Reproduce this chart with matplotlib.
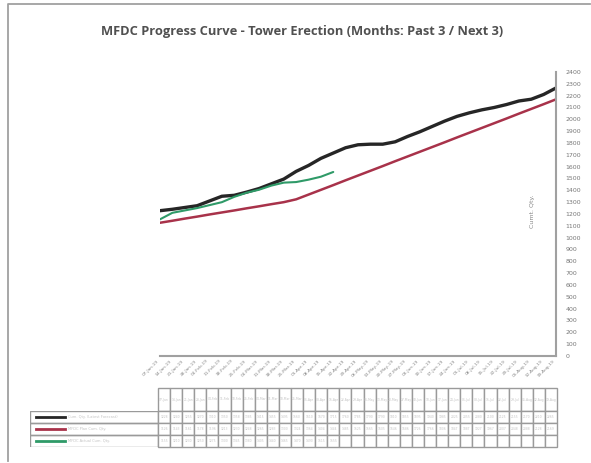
import numpy as np
import pandas as pd
import matplotlib
matplotlib.use("Agg")
import matplotlib.pyplot as plt
from matplotlib.patches import Rectangle
from matplotlib.lines import Line2D

# Weekly reporting dates (category axis)
dates = pd.date_range("2019-01-07", periods=33, freq="7D").strftime("%d-%b-%y").tolist()

# Cumulative quantities
forecast = [1228, 1240, 1255, 1270, 1310, 1350, 1358, 1385, 1415, 1455, 1495,
            1560, 1610, 1670, 1715, 1760, 1785, 1790, 1790, 1810, 1855, 1895,
            1940, 1985, 2025, 2055, 2080, 2100, 2125, 2155, 2170, 2210, 2265]
plan = [1126, 1143, 1161, 1178, 1196, 1213, 1230, 1248, 1265, 1283, 1300,
        1324, 1364, 1404, 1444, 1485, 1525, 1565, 1605, 1646, 1686, 1726,
        1766, 1806, 1847, 1887, 1927, 1967, 2007, 2048, 2088, 2128, 2169]
actual = [1155, 1210, 1230, 1250, 1275, 1300, 1345, 1380, 1405, 1440, 1465,
          1470, 1490, 1515, 1555]

series_names = ["Cum. Qty. (Latest Forecast)", "MFDC Plan Cum. Qty.", "MFDC Actual Cum. Qty."]
series_colors = ["#262626", "#a8324a", "#2f9a68"]
series_lw = [2.4, 1.8, 1.5]

W, H = 591, 463
fig = plt.figure(figsize=(W / 100, H / 100), dpi=100)
grey = "#9a9a9a"

def fx(px):
    return px / W

def fy(py):
    return 1 - py / H

# border of the chart area (only top and left survive in the scan)
fig.lines.append(Line2D([fx(8), fx(8), fx(590)], [fy(461), fy(3.5), fy(3.5)],
                        transform=fig.transFigure, color="#a0a0a0", lw=1.3))

fig.text(fx(302), fy(32), "MFDC Progress Curve - Tower Erection (Months: Past 3 / Next 3)",
         ha="center", va="center", fontsize=9.3, fontweight="bold", color="#505050",
         family="Open Sans")

# main chart
ax = fig.add_axes([fx(160), fy(356), fx(396), (356 - 72) / H])
x = np.arange(len(dates))
for vals, c, lw in zip([forecast, plan, actual], series_colors, series_lw):
    ax.plot(x[:len(vals)], vals, color=c, lw=lw, solid_capstyle="round")

ax.set_xlim(0, len(dates) - 1)
ax.set_ylim(0, 2400)
ax.set_yticks(np.arange(0, 2401, 100))
ax.yaxis.tick_right()
ax.tick_params(axis="y", labelsize=4.5, labelcolor="#777777", length=0, pad=7)
ax.set_xticks(x)
ax.set_xticklabels(dates, rotation=45, ha="right", fontsize=3.2, color="#888888")
ax.tick_params(axis="x", length=0, pad=2)
for s in ["top", "left"]:
    ax.spines[s].set_visible(False)
for s in ["right", "bottom"]:
    ax.spines[s].set_color("#a0a0a0")
    ax.spines[s].set_linewidth(1.5)
ax.text(0.94, 0.51, "Cumt. Qty.", transform=ax.transAxes, rotation=90,
        ha="center", va="center", fontsize=4.5, color="#888888")

# data table under the chart
tab_ax = fig.add_axes([fx(158), fy(447), fx(399), (447 - 388) / H])
tab_ax.axis("off")
rows = [[d[:6] for d in dates]]
for vals in [forecast, plan, actual]:
    rows.append([str(v) for v in vals] + [""] * (len(dates) - len(vals)))
tbl = tab_ax.table(cellText=rows, bbox=[0, 0, 1, 1], cellLoc="center")
tbl.auto_set_font_size(False)
tbl.set_fontsize(2.2)
for (r, c), cell in tbl.get_celld().items():
    cell.set_edgecolor(grey)
    cell.set_linewidth(1.0)
    cell.get_text().set_color("#c4c4c4")
    cell.set_height(23 if r == 0 else 12)

# legend column of the table
leg_ax = fig.add_axes([fx(30), fy(447), fx(128), (447 - 411) / H])
leg_ax.set_xlim(0, 1)
leg_ax.set_ylim(0, 3)
leg_ax.axis("off")
for i, (name, c) in enumerate(zip(series_names, series_colors)):
    yc = 2.5 - i
    leg_ax.add_patch(Rectangle((0, yc - 0.5), 1, 1, fill=False, edgecolor=grey, lw=1.0))
    leg_ax.plot([0.05, 0.27], [yc, yc], color=c, lw=2)
    leg_ax.text(0.3, yc, name, fontsize=2.6, color="#c4c4c4", va="center")

fig.savefig("out.png", dpi=100)
